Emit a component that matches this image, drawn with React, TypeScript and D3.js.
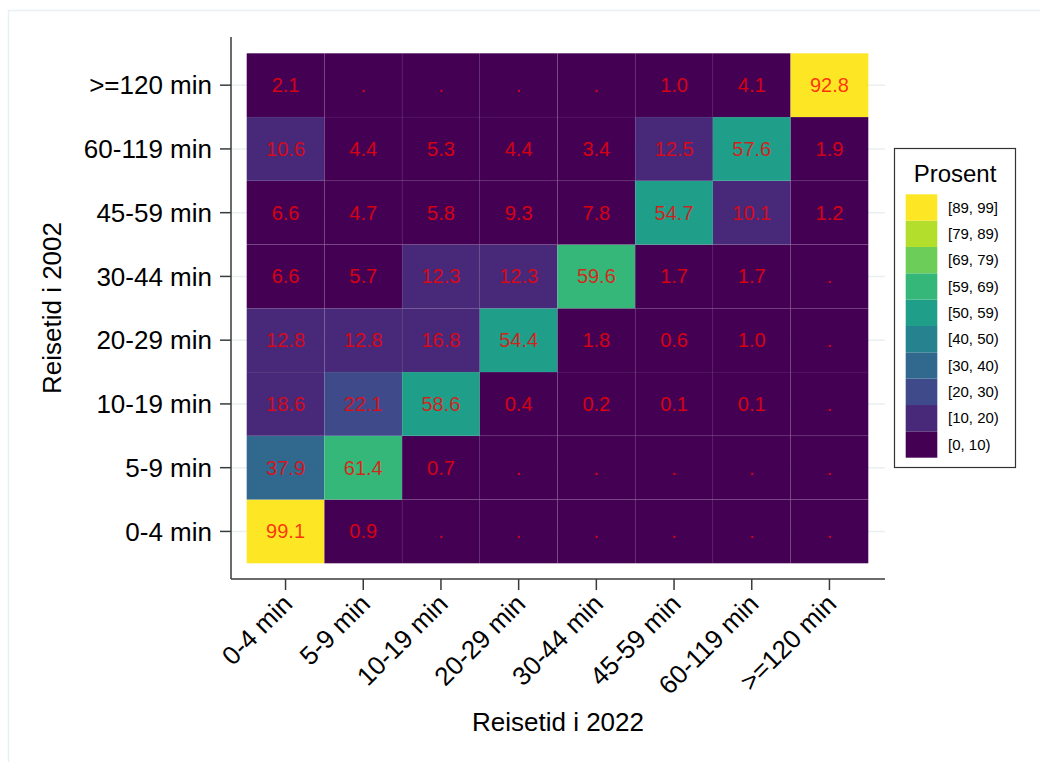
import React from "react";
import * as d3 from "d3";

// travel time categories (same for both years)
const categories = [
  "0-4 min",
  "5-9 min",
  "10-19 min",
  "20-29 min",
  "30-44 min",
  "45-59 min",
  "60-119 min",
  ">=120 min",
];

// row percentages, one array per 2002 category (columns = 2022 categories), null = "."
const row0to4 = [99.1, 0.9, null, null, null, null, null, null];
const row5to9 = [37.9, 61.4, 0.7, null, null, null, null, null];
const row10to19 = [18.6, 22.1, 58.6, 0.4, 0.2, 0.1, 0.1, null];
const row20to29 = [12.8, 12.8, 16.8, 54.4, 1.8, 0.6, 1.0, null];
const row30to44 = [6.6, 5.7, 12.3, 12.3, 59.6, 1.7, 1.7, null];
const row45to59 = [6.6, 4.7, 5.8, 9.3, 7.8, 54.7, 10.1, 1.2];
const row60to119 = [10.6, 4.4, 5.3, 4.4, 3.4, 12.5, 57.6, 1.9];
const row120plus = [2.1, null, null, null, null, 1.0, 4.1, 92.8];

const rows = [row0to4, row5to9, row10to19, row20to29, row30to44, row45to59, row60to119, row120plus];

// legend bins
const binBreaks = [10, 20, 30, 40, 50, 59, 69, 79, 89];
const binLabels = [
  "[0, 10)",
  "[10, 20)",
  "[20, 30)",
  "[30, 40)",
  "[40, 50)",
  "[50, 59)",
  "[59, 69)",
  "[69, 79)",
  "[79, 89)",
  "[89, 99]",
];
const binColors = [
  "#440154",
  "#482878",
  "#3e4a89",
  "#31688e",
  "#26828e",
  "#1f9e89",
  "#35b779",
  "#6dcd59",
  "#b4de2c",
  "#fde725",
];

const FONT = "'Liberation Sans', Arial, sans-serif";

export default function App() {
  const width = 1040;
  const height = 762;

  // plot area
  const axisX = 231;
  const axisY = 579;
  const axisRight = 885;
  const axisTop = 37;

  const x = d3.scaleBand<string>().domain(categories).range([246.7, 868.3]).padding(0);
  const y = d3
    .scaleBand<string>()
    .domain([...categories].reverse())
    .range([53.3, 563.3])
    .padding(0);

  const color = d3.scaleThreshold<number, string>().domain(binBreaks).range(binColors);

  const cells = rows.flatMap((vals, ri) =>
    vals.map((v, ci) => ({ row: categories[ri], col: categories[ci], value: v }))
  );

  // legend
  const legX = 894.5;
  const legY = 148.5;
  const swatch = d3
    .scaleBand<number>()
    .domain(d3.range(binLabels.length).reverse())
    .range([194.3, 457.7]);

  return (
    <svg
      width={width}
      height={height}
      style={{ position: "absolute", left: 0, top: 0, fontFamily: FONT }}
    >
      <rect x={0} y={0} width={width} height={height} fill="#fff" />
      {/* graph region frame */}
      <rect x={8.5} y={10.5} width={width} height={height + 20} fill="none" stroke="#e8f0f1" strokeWidth={1.5} />

      {/* horizontal gridlines */}
      {categories.map((c) => (
        <line
          key={"g" + c}
          x1={axisX}
          x2={axisRight}
          y1={y(c)! + y.bandwidth() / 2}
          y2={y(c)! + y.bandwidth() / 2}
          stroke="#e8f0f1"
          strokeWidth={1.5}
        />
      ))}

      {/* cells */}
      {cells.map((d) => (
        <rect
          key={d.row + d.col}
          x={x(d.col)}
          y={y(d.row)}
          width={x.bandwidth()}
          height={y.bandwidth()}
          fill={color(d.value ?? 0)}
          stroke="rgba(255,255,255,0.035)"
          strokeWidth={1}
        />
      ))}
      {cells.map((d) => (
        <text
          key={"t" + d.row + d.col}
          x={x(d.col)! + x.bandwidth() / 2}
          y={y(d.row)! + y.bandwidth() / 2}
          dy="0.35em"
          textAnchor="middle"
          fontSize={20}
          fill="#ff0000"
          fillOpacity={0.78}
        >
          {d.value == null ? "." : d.value.toFixed(1)}
        </text>
      ))}

      {/* axes */}
      <line x1={axisX} x2={axisX} y1={axisTop} y2={axisY} stroke="#3a3a3a" strokeWidth={1.5} />
      <line x1={axisX} x2={axisRight} y1={axisY} y2={axisY} stroke="#3a3a3a" strokeWidth={1.5} />

      {categories.map((c) => {
        const cy = y(c)! + y.bandwidth() / 2;
        return (
          <g key={"yt" + c}>
            <line x1={axisX - 11} x2={axisX} y1={cy} y2={cy} stroke="#3a3a3a" strokeWidth={1.5} />
            <text x={axisX - 19} y={cy} dy="0.35em" textAnchor="end" fontSize={26} fill="#000">
              {c}
            </text>
          </g>
        );
      })}

      {categories.map((c) => {
        const cx = x(c)! + x.bandwidth() / 2;
        return (
          <g key={"xt" + c}>
            <line x1={cx} x2={cx} y1={axisY} y2={axisY + 11} stroke="#3a3a3a" strokeWidth={1.5} />
            <text
              transform={`translate(${cx + 2},${axisY + 20}) rotate(-45)`}
              dy="0.35em"
              textAnchor="end"
              fontSize={26}
              fill="#000"
            >
              {c}
            </text>
          </g>
        );
      })}

      {/* axis titles */}
      <text x={(axisX + axisRight) / 2} y={731} textAnchor="middle" fontSize={26} fill="#000">
        Reisetid i 2022
      </text>
      <text
        transform={`translate(61,${(axisTop + axisY) / 2}) rotate(-90)`}
        textAnchor="middle"
        fontSize={26}
        fill="#000"
      >
        Reisetid i 2002
      </text>

      {/* legend */}
      <rect x={legX} y={legY} width={121} height={319} fill="#fff" stroke="#333" strokeWidth={1.2} />
      <text x={955} y={182} textAnchor="middle" fontSize={24} fill="#000">
        Prosent
      </text>
      {binLabels.map((l, i) => (
        <g key={"l" + l}>
          <rect x={905.7} y={swatch(i)} width={31.6} height={swatch.bandwidth()} fill={binColors[i]} />
          <text x={948} y={swatch(i)! + swatch.bandwidth() / 2} dy="0.35em" fontSize={15} fill="#000">
            {l}
          </text>
        </g>
      ))}
    </svg>
  );
}
